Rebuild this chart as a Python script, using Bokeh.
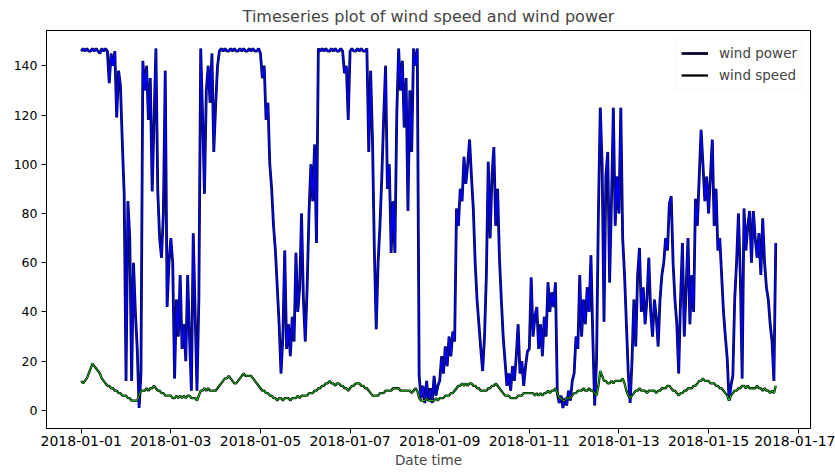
import pandas as pd
from bokeh.plotting import figure
from bokeh.models import Range1d, FixedTicker, DatetimeTickFormatter, Legend, LegendItem
from bokeh.embed import file_html
from bokeh.resources import INLINE

start_time = "2018-01-01 00:00"

# hourly wind power, one row per day
wind_power = (
    [146,147,146,147,146,146,147,146,147,146,145,147,146,147,146,133,145,140,146,119,138,132,109,88]
    + [12,85,70,12,60,40,25,1,15,142,130,140,118,135,89,118,147,89,70,62,80,138,42,60]
    + [70,60,13,45,30,55,25,35,20,55,30,8,72,40,8,45,147,120,88,130,140,125,145,105]
    + [124,140,146,147,146,147,146,146,147,146,147,146,146,147,146,147,146,146,147,146,147,146,146,147]
    + [145,135,140,118,125,100,90,75,65,50,35,15,30,65,25,35,22,38,28,64,40,50,80,45]
    + [28,50,80,100,85,108,68,147,146,147,146,147,146,146,147,146,147,146,146,147,146,137,140,118]
    + [146,147,146,146,147,146,147,146,146,147,105,138,110,65,33,60,75,95,119,140,90,100,64,85]
    + [64,120,147,130,142,115,135,81,130,105,147,140,147,14,5,10,3,12,4,9,3,14,6,10]
    + [12,22,15,26,18,30,22,32,28,82,75,90,85,103,92,100,110,95,82,60,45,35,25,16]
    + [30,55,101,70,95,107,75,90,62,45,30,20,10,15,8,18,12,22,35,15,20,10,18,24]
    + [25,54,30,38,42,25,35,22,38,30,52,40,48,42,52,7,3,6,1,5,2,8,4,12]
    + [15,30,25,55,30,45,35,50,40,63,30,2,20,80,123,100,36,95,105,52,85,123,75,95]
    + [80,123,70,55,35,15,3,20,45,26,55,66,40,50,35,45,62,40,30,45,38,26,45,55]
    + [60,70,65,84,87,60,45,35,15,45,68,30,50,70,35,55,40,86,75,95,114,100,85,95]
    + [80,95,110,75,90,65,70,55,40,30,21,4,10,14,45,60,80,55,13,82,65,75,81,60]
    + [81,70,62,72,55,78,60,50,45,35,28,12,68]
)

# hourly wind speed, one row per day
wind_speed = (
    [12,11,12,13,15,17,19,18,17,16,15,13,12,11,10,10,9,9,8,8,7,7,6,6]
    + [6,5,5,4,4,4,4,6,8,8,8,9,8,9,9,10,9,8,8,7,7,6,6,6]
    + [6,5,5,6,5,6,5,6,5,6,6,5,5,5,4,6,8,8,9,8,9,8,8,8]
    + [8,9,10,11,12,13,13,14,13,12,11,11,12,13,14,15,14,14,14,14,13,12,11,10]
    + [9,8,8,7,7,6,6,5,5,4,5,5,4,5,5,5,4,5,5,5,6,5,6,6]
    + [6,6,7,7,7,8,8,9,9,10,10,11,11,12,11,11,10,11,11,10,10,9,9,8]
    + [9,10,10,11,11,11,10,10,9,9,8,7,6,6,6,6,7,7,7,8,8,8,8,9]
    + [9,9,9,8,8,8,8,8,8,7,8,9,8,5,4,4,4,5,4,4,4,4,5,4]
    + [5,5,5,6,6,6,7,7,8,9,10,10,11,10,11,10,11,11,10,10,9,9,8,8]
    + [8,8,9,9,10,10,11,10,9,8,7,6,6,6,5,5,5,5,6,6,6,7,7,7]
    + [7,7,7,6,7,6,7,6,7,7,8,7,8,8,9,7,5,5,4,4,5,5,5,6]
    + [7,7,8,8,8,9,8,8,9,8,8,7,6,10,16,14,12,12,11,11,12,11,12,12]
    + [12,12,13,11,8,6,5,6,7,8,8,9,8,8,8,7,8,8,8,8,7,8,8,9]
    + [9,9,10,10,9,8,8,7,6,7,7,8,8,9,9,9,10,10,11,12,12,13,12,12]
    + [12,11,11,11,10,10,9,9,8,7,6,4,6,7,8,8,9,9,10,10,9,10,9,9]
    + [9,9,10,9,9,8,9,8,8,7,8,7,10]
)

x_tick_labels = ["2018-01-01", "2018-01-03", "2018-01-05", "2018-01-07", "2018-01-09",
                 "2018-01-11", "2018-01-13", "2018-01-15", "2018-01-17"]
y_ticks = [0, 20, 40, 60, 80, 100, 120, 140]

times = pd.date_range(start_time, periods=len(wind_power), freq="h")

# matplotlib-like 5% auto margins
t0, t1 = times[0], times[-1]
pad = (t1 - t0) * 0.05
lo = min(0, min(wind_power + wind_speed))
hi = max(wind_power + wind_speed)
vpad = (hi - lo) * 0.05

FONT = "DejaVu Sans"

p = figure(width=835, height=472, output_backend="svg", toolbar_location=None,
           x_axis_type="datetime",
           x_range=Range1d((t0 - pad).to_pydatetime(), (t1 + pad).to_pydatetime()),
           y_range=Range1d(lo - vpad, hi + vpad),
           min_border_left=46, min_border_right=25, min_border_top=30, min_border_bottom=44)

p.title.text = "Timeseries plot of wind speed and wind power"
p.title.align = "center"
p.title.text_font = FONT
p.title.text_font_style = "normal"
p.title.text_font_size = "16px"
p.title.standoff = 9

r_pw_out = p.line(times, wind_power, line_color="#06062c", line_width=2.8)
p.line(times, wind_power, line_color="#0000ff", line_width=1.4)
r_sp_out = p.line(times, wind_speed, line_color="black", line_width=2.3)
p.line(times, wind_speed, line_color="#14d214", line_width=1.0)

p.grid.visible = False
p.outline_line_color = "black"
p.outline_line_width = 1
p.background_fill_color = "white"
p.border_fill_color = "white"

p.xaxis.ticker = FixedTicker(ticks=[pd.Timestamp(s).value / 1e6 for s in x_tick_labels])
p.xaxis.formatter = DatetimeTickFormatter(days="%Y-%m-%d", months="%Y-%m-%d", hours="%Y-%m-%d")
p.yaxis.ticker = FixedTicker(ticks=y_ticks)
p.xaxis.axis_label = "Date time"
p.xaxis.axis_label_text_font = FONT
p.xaxis.axis_label_text_font_style = "normal"
p.xaxis.axis_label_text_font_size = "13.5px"
p.xaxis.axis_label_standoff = 3
p.xaxis.major_label_text_font_size = "14px"
p.yaxis.major_label_text_font_size = "12.5px"
p.xaxis.major_label_standoff = 2
p.yaxis.major_label_standoff = 4
for ax in (p.xaxis, p.yaxis):
    ax.major_label_text_font = FONT
    ax.major_label_text_color = "black"
    ax.axis_line_color = "black"
    ax.major_tick_line_color = "black"
    ax.major_tick_out = 5
    ax.major_tick_in = 0
    ax.minor_tick_out = 0
    ax.minor_tick_in = 0

legend = Legend(items=[LegendItem(label="wind power", renderers=[r_pw_out]),
                       LegendItem(label="wind speed", renderers=[r_sp_out])],
                location="top_right", margin=8, padding=4, spacing=2,
                glyph_width=27, glyph_height=20, label_height=20, label_standoff=11,
                label_text_font=FONT, label_text_font_size="13.5px",
                border_line_color="#f0f0d6", border_line_width=1,
                background_fill_color="white", background_fill_alpha=1)
p.add_layout(legend)

open("out.html", "w").write(file_html(p, INLINE))
